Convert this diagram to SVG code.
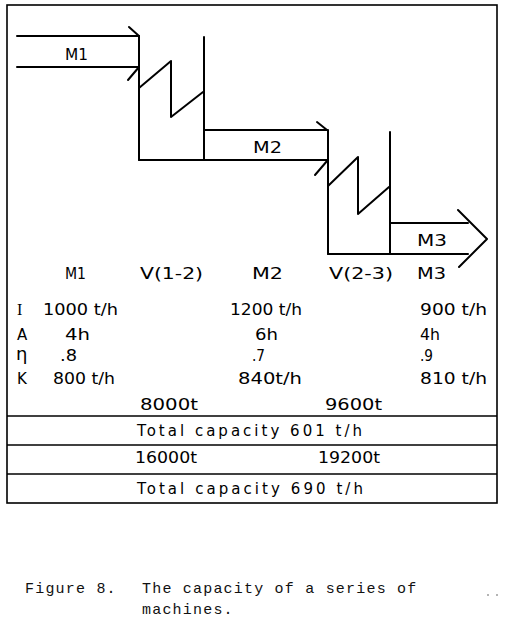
<svg xmlns="http://www.w3.org/2000/svg" width="505" height="619" viewBox="0 0 505 619">
<style>
.ln{stroke:#000;stroke-width:2;fill:none;stroke-linecap:round;stroke-linejoin:round}
.fr{stroke:#000;stroke-width:1.6;fill:none}
.t{font-family:"DejaVu Sans","Liberation Sans",sans-serif;font-size:15px;fill:#000}
.h{font-family:"DejaVu Sans","Liberation Sans",sans-serif;font-size:16px;fill:#000}
.s{font-family:"Liberation Serif","Times New Roman",serif;font-size:16px;fill:#000}
.e{font-family:"DejaVu Sans","Liberation Sans",sans-serif;font-size:18px;fill:#000}
.c{font-family:"Liberation Mono","Courier New",monospace;font-size:15px;letter-spacing:1.2px;fill:#111}
</style>
<rect width="505" height="619" fill="#fff"/>

<g id="frame">
<rect class="fr" x="7" y="5" width="490" height="498"/>
<line class="fr" x1="7" y1="416" x2="497" y2="416"/>
<line class="fr" x1="7" y1="445" x2="497" y2="445"/>
<line class="fr" x1="7" y1="474" x2="497" y2="474"/>
</g>

<g id="node-M1">
<line class="ln" x1="17" y1="36" x2="139" y2="36"/>
<line class="ln" x1="17" y1="67" x2="139" y2="67"/>
<text class="t" x="65" y="60" textLength="23" lengthAdjust="spacingAndGlyphs">M1</text>
</g>

<g id="node-V12">
<line class="ln" x1="139" y1="36" x2="139" y2="160"/>
<line class="ln" x1="204" y1="37" x2="204" y2="160"/>
<line class="ln" x1="139" y1="160" x2="204" y2="160"/>
<polyline class="ln" points="139,88 171,61 171,117 203,92"/>
</g>

<g id="node-M2">
<line class="ln" x1="204" y1="130" x2="327" y2="130"/>
<line class="ln" x1="204" y1="160" x2="327" y2="160"/>
<text class="t" x="253" y="153" textLength="29" lengthAdjust="spacingAndGlyphs">M2</text>
</g>

<g id="node-V23">
<line class="ln" x1="328" y1="130" x2="328" y2="254"/>
<line class="ln" x1="390" y1="132" x2="390" y2="254"/>
<line class="ln" x1="328" y1="254" x2="390" y2="254"/>
<polyline class="ln" points="328,186 358,157 358,214 389,187"/>
</g>

<g id="node-M3">
<line class="ln" x1="390" y1="223" x2="468" y2="223"/>
<line class="ln" x1="390" y1="254" x2="468" y2="254"/>
<text class="t" x="417" y="246" textLength="30" lengthAdjust="spacingAndGlyphs">M3</text>
</g>

<g id="connectors">
<polyline class="ln" points="129,27 139,36"/>
<polyline class="ln" points="128,80 139,67"/>
<polyline class="ln" points="317,122 327,130"/>
<polyline class="ln" points="315,175 327,161"/>
<polyline class="ln" points="458,210 487,239 459,267"/>
</g>

<g id="labels">
<text class="h" x="65" y="279" textLength="21" lengthAdjust="spacingAndGlyphs">M1</text>
<text class="h" x="140" y="279" textLength="63" lengthAdjust="spacingAndGlyphs">V(1-2)</text>
<text class="h" x="252" y="279" textLength="31" lengthAdjust="spacingAndGlyphs">M2</text>
<text class="h" x="329" y="279" textLength="64" lengthAdjust="spacingAndGlyphs">V(2-3)</text>
<text class="h" x="417" y="279" textLength="29" lengthAdjust="spacingAndGlyphs">M3</text>
</g>

<g id="data">
<text class="s" x="17" y="315">I</text>
<text class="t" x="43" y="315" textLength="75" lengthAdjust="spacingAndGlyphs">1000 t/h</text>
<text class="t" x="230" y="315" textLength="72" lengthAdjust="spacingAndGlyphs">1200 t/h</text>
<text class="t" x="420" y="315" textLength="67" lengthAdjust="spacingAndGlyphs">900 t/h</text>
<text class="t" x="17" y="340">A</text>
<text class="t" x="65" y="340" textLength="25" lengthAdjust="spacingAndGlyphs">4h</text>
<text class="t" x="255" y="340" textLength="23" lengthAdjust="spacingAndGlyphs">6h</text>
<text class="t" x="420" y="340" textLength="20" lengthAdjust="spacingAndGlyphs">4h</text>
<text class="e" x="16" y="360">η</text>
<text class="t" x="60" y="361" textLength="17" lengthAdjust="spacingAndGlyphs">.8</text>
<text class="t" x="252" y="361" textLength="13" lengthAdjust="spacingAndGlyphs">.7</text>
<text class="t" x="420" y="361" textLength="13" lengthAdjust="spacingAndGlyphs">.9</text>
<text class="t" x="17" y="384">K</text>
<text class="t" x="53" y="384" textLength="62" lengthAdjust="spacingAndGlyphs">800 t/h</text>
<text class="t" x="238" y="384" textLength="64" lengthAdjust="spacingAndGlyphs">840t/h</text>
<text class="t" x="420" y="384" textLength="67" lengthAdjust="spacingAndGlyphs">810 t/h</text>
</g>

<g id="table">
<text class="t" x="140" y="410" textLength="58" lengthAdjust="spacingAndGlyphs">8000t</text>
<text class="t" x="325" y="410" textLength="57" lengthAdjust="spacingAndGlyphs">9600t</text>
<text class="t" x="137" y="436" textLength="225" lengthAdjust="spacing">Total capacity  601 t/h</text>
<text class="t" x="135" y="463" textLength="62" lengthAdjust="spacingAndGlyphs">16000t</text>
<text class="t" x="318" y="463" textLength="62" lengthAdjust="spacingAndGlyphs">19200t</text>
<text class="t" x="137" y="494" textLength="226" lengthAdjust="spacing">Total capacity  690 t/h</text>
</g>

<g id="caption">
<text class="c" x="25" y="593">Figure 8.</text>
<text class="c" x="142" y="593">The capacity of a series of</text>
<text class="c" x="142" y="614">machines.</text>
<circle cx="488" cy="595" r="0.8" fill="#555"/>
<circle cx="497" cy="595" r="0.8" fill="#555"/>
</g>
</svg>
